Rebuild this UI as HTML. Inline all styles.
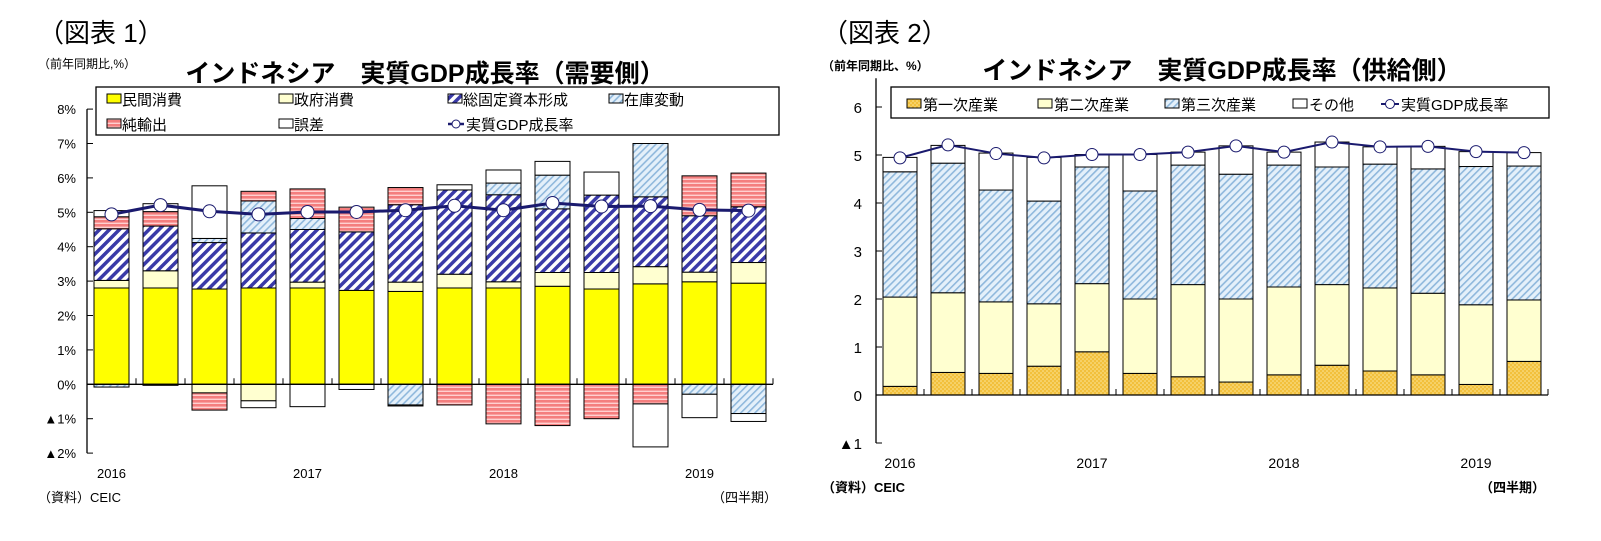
<!DOCTYPE html>
<html><head><meta charset="utf-8">
<style>
body{margin:0;background:#fff;width:1601px;height:536px;overflow:hidden;font-family:"Liberation Sans","Noto Sans CJK JP",sans-serif;}
svg text{font-family:"Liberation Sans","Noto Sans CJK JP",sans-serif;}
</style></head>
<body>
<svg id="svg" width="1601" height="536" xmlns="http://www.w3.org/2000/svg">
<defs>
<pattern id="pGF" patternUnits="userSpaceOnUse" width="7" height="7" patternTransform="rotate(45)"><rect width="7" height="7" fill="#fff"/><rect width="3.5" height="7" fill="#3a3aa8"/></pattern>
<pattern id="pINV" patternUnits="userSpaceOnUse" width="5" height="5" patternTransform="rotate(45)"><rect width="5" height="5" fill="#e4f0fa"/><rect width="1.6" height="5" fill="#8fb8dc"/></pattern>
<pattern id="pNX" patternUnits="userSpaceOnUse" width="4" height="4"><rect width="4" height="4" fill="#f47e7e"/><rect y="2.6" width="4" height="1.4" fill="#ffd0d0"/></pattern>
<pattern id="pPRI" patternUnits="userSpaceOnUse" width="4" height="4"><rect width="4" height="4" fill="#f2c03c"/><circle cx="1" cy="1" r="0.8" fill="#fbe59a"/><circle cx="3" cy="3" r="0.8" fill="#fbe59a"/></pattern>
</defs>
<g id="c1"></g>
<g id="c2"></g>
</svg>
<script>
// ---- Chart 1 data (demand side, % contribution) ----
const quarters1 = ["2016Q1","2016Q2","2016Q3","2016Q4","2017Q1","2017Q2","2017Q3","2017Q4","2018Q1","2018Q2","2018Q3","2018Q4","2019Q1","2019Q2"];
const privCons = [2.80,2.80,2.77,2.80,2.80,2.73,2.70,2.80,2.80,2.85,2.77,2.92,2.98,2.94];
const govCons  = [0.22,0.50,-0.25,-0.48,0.17,0.00,0.27,0.40,0.18,0.40,0.48,0.50,0.28,0.60];
const gfcf     = [1.50,1.30,1.35,1.60,1.53,1.70,2.25,2.45,2.53,1.85,2.25,2.03,1.64,1.62];
const inventory= [-0.08,-0.03,0.12,0.93,0.32,0.00,-0.60,0.00,0.34,0.98,0.00,1.55,-0.29,-0.85];
const netExports=[0.35,0.42,-0.50,0.28,0.86,0.72,0.50,-0.60,-1.15,-1.20,-1.00,-0.57,1.16,0.98];
const discrepancy=[0.18,0.23,1.53,-0.20,-0.65,-0.15,-0.03,0.15,0.38,0.40,0.67,-1.25,-0.68,-0.23];
const gdp1 = [4.94,5.21,5.03,4.94,5.01,5.01,5.06,5.19,5.06,5.27,5.17,5.18,5.07,5.05];
const yTicks1 = [8,7,6,5,4,3,2,1,0,-1,-2];
const yearLabels = ["2016","2017","2018","2019"];
// ---- Chart 2 data (supply side, % contribution) ----
const primary   = [0.18,0.47,0.45,0.60,0.90,0.45,0.38,0.27,0.42,0.62,0.50,0.42,0.22,0.70];
const secondary = [1.86,1.66,1.49,1.30,1.42,1.55,1.92,1.73,1.83,1.68,1.73,1.70,1.66,1.28];
const tertiary  = [2.61,2.70,2.33,2.14,2.43,2.25,2.49,2.60,2.54,2.45,2.58,2.59,2.88,2.79];
const other     = [0.30,0.37,0.77,0.91,0.26,0.76,0.27,0.59,0.27,0.52,0.36,0.47,0.31,0.28];
const gdp2 = [4.94,5.21,5.03,4.94,5.01,5.01,5.06,5.19,5.06,5.27,5.17,5.18,5.07,5.05];
const yTicks2 = [6,5,4,3,2,1,0,-1];

const NS="http://www.w3.org/2000/svg";
function mk(parent,tag,attrs,text){const e=document.createElementNS(NS,tag);for(const k in attrs)e.setAttribute(k,attrs[k]);if(text!==undefined)e.textContent=text;parent.appendChild(e);return e;}

// ===== Chart 1 =====
(function(){
const g=document.getElementById('c1');
const x0=87, slot=49, bw=35, zero=384.3, unit=34.4;
const X=i=>x0+slot*(i+0.5), Y=v=>zero-v*unit;
let t;
t=mk(g,'text',{x:38,y:42,'font-size':26,'font-family':'Liberation Serif, Noto Serif CJK SC, serif'},'（図表 1）');

t=mk(g,'text',{x:38,y:68,'font-size':12},'（前年同期比,%）');

t=mk(g,'text',{x:425,y:82,'font-size':25,'font-weight':'bold','text-anchor':'middle'},'インドネシア　実質GDP成長率（需要側）');

const series=[[privCons,'#ffff00','private-consumption'],[govCons,'#ffffd0','government-consumption'],[gfcf,'url(#pGF)','gfcf'],[inventory,'url(#pINV)','inventory-change'],[netExports,'url(#pNX)','net-exports'],[discrepancy,'#ffffff','discrepancy']];
for(let i=0;i<quarters1.length;i++){
  let pos=0,neg=0;
  for(const [arr,fill,name] of series){
    const v=arr[i]; if(!v) continue;
    let a,b; if(v>0){a=pos;b=pos+v;pos=b;}else{a=neg;b=neg+v;neg=b;}
    const r=mk(g,'rect',{x:X(i)-bw/2,y:Math.min(Y(a),Y(b)),width:bw,height:Math.abs(Y(a)-Y(b)),fill:fill,stroke:'#000','stroke-width':1});
    
    
  }
}
let l=mk(g,'line',{x1:x0,y1:Y(8),x2:x0,y2:Y(-2),stroke:'#000','stroke-width':1.3});

l=mk(g,'line',{x1:x0,y1:zero,x2:x0+slot*14,y2:zero,stroke:'#000','stroke-width':1.3});

for(let i=1;i<=14;i++){mk(g,'line',{x1:x0+slot*i,y1:zero,x2:x0+slot*i,y2:zero-6,stroke:'#000'});}
for(const v of yTicks1){
  mk(g,'line',{x1:x0,y1:Y(v),x2:x0+6,y2:Y(v),stroke:'#000'});
  t=mk(g,'text',{x:76,y:Y(v)+5,'font-size':13,'text-anchor':'end'},(v<0?'▲'+(-v):v)+'%');
  
}
yearLabels.forEach((y,k)=>{t=mk(g,'text',{x:X(k*4),y:478,'font-size':13,'text-anchor':'middle'},y);});
const pts=gdp1.map((v,i)=>X(i)+','+Y(v)).join(' ');
l=mk(g,'polyline',{points:pts,fill:'none',stroke:'#1a1a6e','stroke-width':3});

gdp1.forEach((v,i)=>{const c=mk(g,'circle',{cx:X(i),cy:Y(v),r:6.5,fill:'#fff',stroke:'#1a1a6e','stroke-width':1});});
const lg=mk(g,'g',{});
mk(lg,'rect',{x:96,y:87,width:683,height:48,fill:'#fff',stroke:'#000','stroke-width':1.3});
const le=[[107,99,'#ffff00','民間消費'],[279,99,'#ffffd0','政府消費'],[448,99,'url(#pGF)','総固定資本形成'],[609,99,'url(#pINV)','在庫変動'],[107,124,'url(#pNX)','純輸出'],[279,124,'#fff','誤差']];
for(const [x,y,f,s] of le){
  const e=mk(lg,'g',{});
  mk(e,'rect',{x:x,y:y-5,width:14,height:9,fill:f,stroke:'#000'});
  mk(e,'text',{x:x+15,y:y+6,'font-size':15},s);
}
const e=mk(lg,'g',{});
mk(e,'line',{x1:448,y1:124,x2:464,y2:124,stroke:'#1a1a6e','stroke-width':2.5});
mk(e,'circle',{cx:456,cy:124,r:4,fill:'#fff',stroke:'#1a1a6e'});
mk(e,'text',{x:466,y:130,'font-size':15},'実質GDP成長率');
t=mk(g,'text',{x:38,y:502,'font-size':13},'（資料）CEIC');
t=mk(g,'text',{x:777,y:502,'font-size':13,'text-anchor':'end'},'（四半期）');
})();

// ===== Chart 2 =====
(function(){
const g=document.getElementById('c2');
const x0=876, slot=48, bw=34, zero=395, unit=48;
const X=i=>x0+slot*(i+0.5), Y=v=>zero-v*unit;
let t;
t=mk(g,'text',{x:822,y:42,'font-size':26,'font-family':'Liberation Serif, Noto Serif CJK SC, serif'},'（図表 2）');

t=mk(g,'text',{x:822,y:70,'font-size':12,'font-weight':'bold'},'（前年同期比、%）');

t=mk(g,'text',{x:1222,y:79,'font-size':25,'font-weight':'bold','text-anchor':'middle'},'インドネシア　実質GDP成長率（供給側）');

const series=[[primary,'url(#pPRI)','primary-industry'],[secondary,'#ffffd0','secondary-industry'],[tertiary,'url(#pINV)','tertiary-industry'],[other,'#fff','other']];
for(let i=0;i<quarters1.length;i++){
  let pos=0;
  for(const [arr,fill,name] of series){
    const v=arr[i]; const a=pos,b=pos+v; pos=b;
    const r=mk(g,'rect',{x:X(i)-bw/2,y:Y(b),width:bw,height:Y(a)-Y(b),fill:fill,stroke:'#000','stroke-width':1});
    
    
  }
}
let l=mk(g,'line',{x1:x0,y1:Y(6.6),x2:x0,y2:Y(-1),stroke:'#000','stroke-width':1.3});

l=mk(g,'line',{x1:x0,y1:zero,x2:x0+slot*14,y2:zero,stroke:'#000','stroke-width':1.3});

for(let i=1;i<=14;i++){mk(g,'line',{x1:x0+slot*i,y1:zero,x2:x0+slot*i,y2:zero-6,stroke:'#000'});}
for(const v of yTicks2){
  mk(g,'line',{x1:x0,y1:Y(v),x2:x0+6,y2:Y(v),stroke:'#000'});
  t=mk(g,'text',{x:862,y:Y(v)+6,'font-size':15,'text-anchor':'end'},v<0?'▲'+(-v):String(v));
  
}
yearLabels.forEach((y,k)=>{t=mk(g,'text',{x:X(k*4),y:468,'font-size':14,'text-anchor':'middle'},y);});
const pts=gdp2.map((v,i)=>X(i)+','+Y(v)).join(' ');
l=mk(g,'polyline',{points:pts,fill:'none',stroke:'#1a1a6e','stroke-width':2});

gdp2.forEach((v,i)=>{const c=mk(g,'circle',{cx:X(i),cy:Y(v),r:6,fill:'#fff',stroke:'#1a1a6e','stroke-width':1});});
const lg=mk(g,'g',{});
mk(lg,'rect',{x:891,y:87,width:658,height:31,fill:'#fff',stroke:'#000','stroke-width':1.3});
const le=[[907,'url(#pPRI)','第一次産業'],[1038,'#ffffd0','第二次産業'],[1165,'url(#pINV)','第三次産業'],[1293,'#fff','その他']];
for(const [x,f,s] of le){
  const e=mk(lg,'g',{});
  mk(e,'rect',{x:x,y:99,width:14,height:9,fill:f,stroke:'#000'});
  mk(e,'text',{x:x+16,y:110,'font-size':15},s);
}
const e=mk(lg,'g',{});
mk(e,'line',{x1:1381,y1:104,x2:1399,y2:104,stroke:'#1a1a6e','stroke-width':2});
mk(e,'circle',{cx:1390,cy:104,r:4.5,fill:'#fff',stroke:'#1a1a6e'});
mk(e,'text',{x:1401,y:110,'font-size':15},'実質GDP成長率');
t=mk(g,'text',{x:822,y:492,'font-size':13,'font-weight':'bold'},'（資料）CEIC');
t=mk(g,'text',{x:1545,y:492,'font-size':13,'font-weight':'bold','text-anchor':'end'},'（四半期）');
})();
</script>
</body></html>
